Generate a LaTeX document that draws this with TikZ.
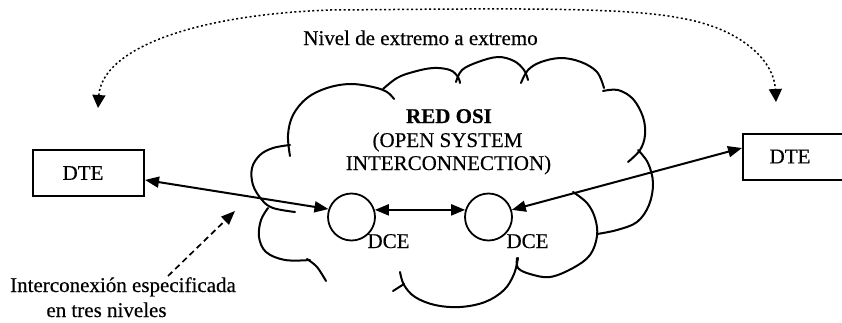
\documentclass[tikz,border=0pt]{standalone}
\usepackage{fontspec}
\setmainfont[FakeBold=0.4]{Liberation Serif}
\usetikzlibrary{arrows.meta,calc}
\begin{document}
\begin{tikzpicture}[x=1pt,y=-1pt,
  >={Triangle[length=14pt,width=11pt]},
  every node/.style={font=\fontsize{21}{25}\selectfont},
  box/.style={draw, line width=2pt, inner sep=0pt, minimum height=46pt},
  dce/.style={draw, circle, line width=1.8pt, inner sep=0pt, minimum size=47pt},
  txt/.style={anchor=base, inner sep=0pt},
  conn/.style={<->, line width=2pt},
  cloudline/.style={line width=2pt, line cap=round, line join=round},
  dotarc/.style={{Triangle[length=13pt,width=13pt]}-{Triangle[length=13pt,width=13pt]}, line width=1.5pt, dash pattern=on 2pt off 2.5pt},
  dasharr/.style={->, line width=1.7pt, dash pattern=on 6pt off 4pt}]
\useasboundingbox (0,0) rectangle (842,322);
\clip (0,0) rectangle (842,322);

% cloud strokes
\draw[cloudline] plot[smooth, tension=0.6] coordinates {(290,145) (273,148) (260,155) (252,168) (253,185) (262,200) (273,208) (295,212)};
\draw[cloudline] plot[smooth, tension=0.6] coordinates {(268,208) (261,220) (259,237) (266,252) (285,260) (310,260)};
\draw[cloudline] plot[smooth, tension=0.6] coordinates {(307,259) (317,267) (326,281)};
\draw[cloudline] plot[smooth, tension=0.6] coordinates {(290,156) (288,135) (293,115) (307,98) (327,88) (350,84) (373,87) (387,92) (394,99)};
\draw[cloudline] plot[smooth, tension=0.6] coordinates {(383,89) (397,78) (413,72) (433,68) (450,70) (458,77) (460,83)};
\draw[cloudline] plot[smooth, tension=0.6] coordinates {(456,82) (462,70) (478,62) (498,57) (514,61) (524,70) (528,80)};
\draw[cloudline] plot[smooth, tension=0.6] coordinates {(521,83) (528,70) (541,62) (561,58) (581,62) (597,72) (604,88)};
\draw[cloudline] plot[smooth, tension=0.6] coordinates {(603,91) (618,90) (633,99) (643,117) (645,135) (640,150) (628,162)};
\draw[cloudline] plot[smooth, tension=0.6] coordinates {(638,150) (648,163) (653,183) (649,205) (637,222) (617,230) (597,234)};
\draw[cloudline] plot[smooth, tension=0.6] coordinates {(573,192) (587,203) (595,218) (597,236) (590,255) (573,268) (550,277) (530,274) (518,268) (517,258)};
\draw[cloudline] plot[smooth, tension=0.6] coordinates {(400,272) (404,285) (415,297) (435,305) (460,307) (485,302) (504,290) (514,274) (518,258)};
\draw[cloudline] (393,291) -- (404,284);

% nodes
\node[box, minimum width=111pt] (dte1) at (88.5,173) {\hspace*{-11pt}DTE};
\node[box, minimum width=110pt] (dte2) at (798,156.5) {\hspace*{-16pt}DTE};
\node[dce] (c1) at (351.5,217) {};
\node[dce] (c2) at (488.5,217) {};
\node[txt] (l1) at (388.5,248) {DCE};
\node[txt] (l2) at (527.5,248) {DCE};
\node[txt] (red) at (449,123) {\textbf{RED OSI}};
\node[txt] (open) at (447.5,147) {(OPEN SYSTEM};
\node[txt] (inter) at (448.5,170) {INTERCONNECTION)};
\node[txt] (nivel) at (420.5,45) {Nivel de extremo a extremo};
\node[txt] (ic1) at (123,292) {Interconexión especificada};
\node[txt] (ic2) at (106.5,317) {en tres niveles};

% connectors
\draw[conn] (dte1.-7) -- (c1.161);
\draw[conn] (c1.17) -- (c2.163);
\draw[conn] (c2.17) -- ($(dte2.west)+(0,-8.5)$);

\coordinate (arcL) at (98,108);
\coordinate (arcR) at (776,102);
\draw[dotarc] (arcL) .. controls (102,50) and (190,15) .. (330,10) .. controls (480,9) and (620,6) .. (680,18) .. controls (740,28) and (774,60) .. (arcR);

\coordinate (dS) at (168,276);
\coordinate (dE) at (235,211);
\draw[dasharr] (dS) -- (dE);
\end{tikzpicture}
\end{document}
